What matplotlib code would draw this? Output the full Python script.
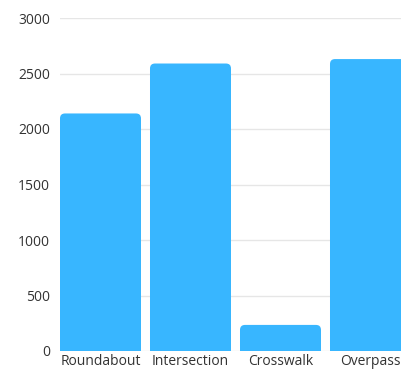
import matplotlib
matplotlib.use("Agg")
import matplotlib.pyplot as plt
from matplotlib.patches import FancyBboxPatch, Rectangle

# ---- data -------------------------------------------------------------
categories = ["Roundabout", "Intersection", "Crosswalk", "Overpass"]
values = [2140, 2590, 235, 2630]
yticks = [0, 500, 1000, 1500, 2000, 2500, 3000]

BAR_COLOR = "#38b6ff"
BAR_W = 0.9

plt.rcParams["font.family"] = ["Open Sans", "DejaVu Sans"]

fig = plt.figure(figsize=(4.01, 3.70), dpi=100)
ax = fig.add_axes([60 / 401, 19 / 370, 341 / 401, 333 / 370])

ax.set_xlim(-0.45, 3.339)
ax.set_ylim(0, 3000)

# rounding radius: ~5px -> data units on each axis
px_x = (3.339 + 0.45) / 341
px_y = 3000 / 333
rx = 5 * px_x
aspect = px_y / px_x

for i, v in enumerate(values):
    x0 = i - BAR_W / 2
    ax.add_patch(FancyBboxPatch((x0 + rx, rx * aspect), BAR_W - 2 * rx, v - 2 * rx * aspect,
                                boxstyle=f"round,pad={rx},rounding_size={rx}",
                                mutation_aspect=aspect, fc=BAR_COLOR, ec="none", zorder=3))
    # square off bottom corners
    ax.add_patch(Rectangle((x0, 0), BAR_W, v / 2, fc=BAR_COLOR, ec="none", zorder=3))

ax.set_xticks(range(len(categories)))
ax.set_xticklabels(categories)
ax.set_yticks(yticks)
ax.set_yticklabels([str(t) for t in yticks])
ax.tick_params(axis="both", length=0, labelsize=10, colors="#333333")
ax.tick_params(axis="y", pad=7)
ax.tick_params(axis="x", pad=2)

ax.grid(axis="y", color="#e6e6e6", linewidth=1, zorder=0)
ax.set_axisbelow(True)
for s in ax.spines.values():
    s.set_visible(False)

fig.savefig("out.png", dpi=100)
